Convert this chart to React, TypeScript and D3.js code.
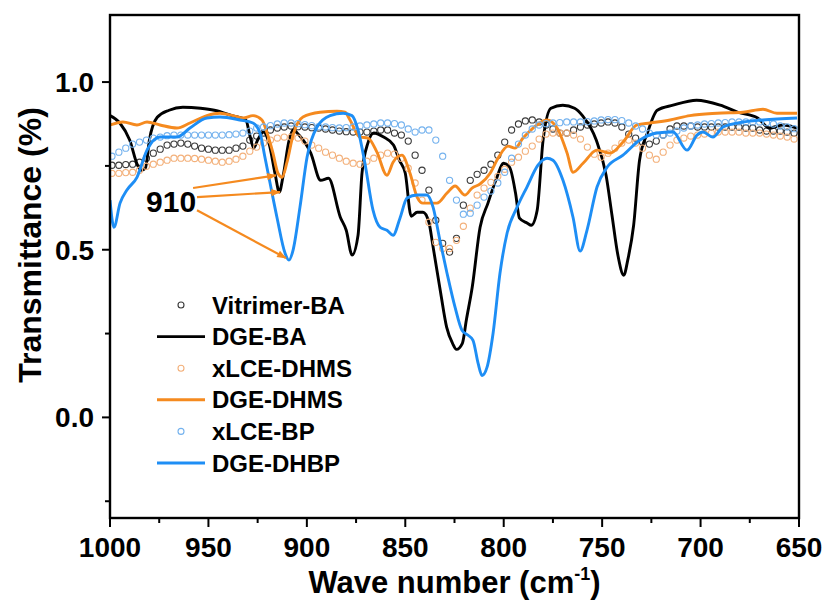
import React from "react";
import * as d3 from "d3";

// wavenumber grid of the open-circle spectra (cm-1)
const WN_DOTS = [
  999, 995.5, 992, 988.5, 985, 981.5, 978, 974.5, 971, 967.5,
  964, 960.5, 957, 953.5, 950, 946.5, 943, 939.5, 936, 932.5,
  929, 925.5, 922, 918.5, 915, 911.5, 908, 904.5, 901, 897.5,
  894, 890.5, 887, 883.5, 880, 876.5, 873, 869.5, 866, 862.5,
  859, 855.5, 852, 848.5, 845, 841.5, 838, 834.5, 831, 827.5,
  824, 820.5, 817, 813.5, 810, 806.5, 803, 799.5, 796, 792.5,
  789, 785.5, 782, 778.5, 775, 771.5, 768, 764.5, 761, 757.5,
  754, 750.5, 747, 743.5, 740, 736.5, 733, 729.5, 726, 722.5,
  719, 715.5, 712, 708.5, 705, 701.5, 698, 694.5, 691, 687.5,
  684, 680.5, 677, 673.5, 670, 666.5, 663, 659.5, 656, 652.5,
];

const T_VITRIMER_BA = [
  0.752, 0.752, 0.754, 0.755, 0.761, 0.773, 0.788, 0.8, 0.812, 0.815,
  0.818, 0.815, 0.809, 0.803, 0.8, 0.797, 0.797, 0.797, 0.803, 0.809,
  0.827, 0.839, 0.848, 0.857, 0.863, 0.866, 0.869, 0.867, 0.866, 0.864,
  0.863, 0.86, 0.857, 0.854, 0.852, 0.851, 0.851, 0.851, 0.854, 0.857,
  0.857, 0.848, 0.842, 0.824, 0.782, 0.737, 0.678, 0.588, 0.519, 0.493,
  0.534, 0.633, 0.707, 0.725, 0.737, 0.755, 0.782, 0.821, 0.857, 0.875,
  0.884, 0.887, 0.881, 0.872, 0.86, 0.848, 0.848, 0.857, 0.866, 0.872,
  0.875, 0.878, 0.881, 0.878, 0.866, 0.845, 0.833, 0.821, 0.815, 0.824,
  0.842, 0.86, 0.869, 0.869, 0.869, 0.866, 0.866, 0.866, 0.866, 0.866,
  0.866, 0.866, 0.863, 0.863, 0.857, 0.854, 0.854, 0.854, 0.851, 0.848,
];

const T_XLCE_DHMS = [
  0.728, 0.728, 0.73, 0.731, 0.737, 0.749, 0.755, 0.761, 0.767, 0.773,
  0.773, 0.773, 0.772, 0.77, 0.767, 0.764, 0.761, 0.764, 0.77, 0.779,
  0.794, 0.806, 0.818, 0.827, 0.833, 0.836, 0.836, 0.833, 0.824, 0.812,
  0.803, 0.791, 0.782, 0.773, 0.764, 0.758, 0.755, 0.764, 0.773, 0.782,
  0.788, 0.785, 0.773, 0.743, 0.699, 0.648, 0.582, 0.522, 0.504, 0.504,
  0.528, 0.57, 0.624, 0.663, 0.684, 0.701, 0.719, 0.74, 0.761, 0.776,
  0.794, 0.809, 0.83, 0.845, 0.848, 0.848, 0.848, 0.842, 0.83, 0.806,
  0.785, 0.776, 0.788, 0.803, 0.818, 0.827, 0.818, 0.803, 0.782, 0.77,
  0.791, 0.812, 0.827, 0.833, 0.839, 0.842, 0.845, 0.848, 0.851, 0.851,
  0.851, 0.851, 0.848, 0.848, 0.848, 0.845, 0.842, 0.839, 0.836, 0.83,
];

const T_XLCE_BP = [
  0.779, 0.791, 0.803, 0.815, 0.821, 0.827, 0.833, 0.836, 0.84, 0.842,
  0.842, 0.842, 0.842, 0.842, 0.842, 0.842, 0.842, 0.843, 0.845, 0.848,
  0.854, 0.863, 0.866, 0.87, 0.875, 0.878, 0.878, 0.876, 0.873, 0.87,
  0.867, 0.866, 0.864, 0.863, 0.864, 0.866, 0.869, 0.872, 0.875, 0.878,
  0.878, 0.876, 0.872, 0.86, 0.851, 0.857, 0.857, 0.827, 0.779, 0.707,
  0.648, 0.606, 0.609, 0.633, 0.657, 0.675, 0.699, 0.731, 0.773, 0.815,
  0.842, 0.86, 0.872, 0.876, 0.878, 0.879, 0.881, 0.881, 0.881, 0.882,
  0.884, 0.887, 0.888, 0.888, 0.885, 0.878, 0.869, 0.86, 0.848, 0.842,
  0.842, 0.848, 0.854, 0.863, 0.869, 0.872, 0.875, 0.876, 0.878, 0.879,
  0.881, 0.881, 0.881, 0.881, 0.881, 0.879, 0.875, 0.869, 0.866, 0.861,
];

// solid-line spectra
const WN_DGE_BA = [
  1000, 995, 990, 986, 984, 982, 980, 976, 970, 963,
  954, 947, 938, 931, 929, 927, 925, 922, 919, 916,
  914, 912, 909, 907, 904, 898, 893, 889, 883, 880,
  877, 874, 872, 869, 866, 861, 856, 853, 850, 847,
  844, 841, 838, 836, 832, 829, 826, 824, 821, 819,
  816, 812, 808, 804, 800, 797, 794, 792, 788, 786,
  783, 780, 776, 770, 764, 760, 753, 748, 745, 742,
  739, 737, 734, 731, 727, 722, 714, 702, 690, 681,
  671, 665, 658, 651,
];
const T_DGE_BA = [
  0.9, 0.878, 0.827, 0.752, 0.737, 0.743, 0.827, 0.895, 0.916, 0.925,
  0.922, 0.916, 0.9, 0.887, 0.842, 0.803, 0.827, 0.851, 0.812, 0.722,
  0.672, 0.722, 0.827, 0.857, 0.842, 0.788, 0.707, 0.713, 0.597, 0.558,
  0.484, 0.543, 0.728, 0.818, 0.848, 0.836, 0.812, 0.767, 0.728, 0.6,
  0.612, 0.612, 0.582, 0.513, 0.37, 0.269, 0.221, 0.203, 0.221, 0.29,
  0.388, 0.567, 0.639, 0.707, 0.758, 0.746, 0.669, 0.594, 0.579, 0.573,
  0.618, 0.827, 0.922, 0.931, 0.922, 0.9, 0.827, 0.722, 0.603, 0.484,
  0.424, 0.469, 0.573, 0.767, 0.848, 0.916, 0.931, 0.946, 0.931, 0.91,
  0.893, 0.863, 0.872, 0.863,
];

const WN_DGE_DHMS = [
  1000, 993.4, 986.3, 981.2, 974.6, 966, 959.4, 950.8, 944.1, 937.5,
  932.4, 927.4, 922.8, 920.2, 917.2, 914.7, 912.6, 910.1, 907, 902,
  893.3, 884.7, 880.6, 878.1, 873, 868.9, 864.4, 859.3, 856.2, 851.7,
  847.6, 844, 841, 837.4, 833.9, 828.8, 824.7, 819.7, 816.1, 812,
  806.9, 802.9, 797.8, 794.3, 790.2, 785.1, 778, 772.9, 767.8, 764.8,
  759.7, 752.6, 746, 739.4, 732.3, 725.7, 715.5, 705.4, 691.6, 678.4,
  668.3, 661.2, 651,
];
const T_DGE_DHMS = [
  0.872, 0.881, 0.872, 0.881, 0.872, 0.863, 0.878, 0.9, 0.907, 0.9,
  0.893, 0.9, 0.887, 0.848, 0.788, 0.728, 0.716, 0.761, 0.842, 0.896,
  0.91, 0.913, 0.91, 0.887, 0.836, 0.833, 0.791, 0.722, 0.761, 0.782,
  0.728, 0.657, 0.639, 0.639, 0.639, 0.669, 0.69, 0.663, 0.684, 0.696,
  0.728, 0.773, 0.809, 0.803, 0.833, 0.863, 0.887, 0.863, 0.788, 0.731,
  0.758, 0.797, 0.788, 0.821, 0.872, 0.878, 0.887, 0.9, 0.907, 0.91,
  0.919, 0.907, 0.907,
];

const WN_DGE_DHBP = [
  1000, 998, 994.9, 991.4, 986.3, 981.2, 974.6, 966, 959.4, 950.8,
  944.1, 934, 927.4, 923.8, 921.3, 918.7, 915.2, 911.1, 909.1, 907,
  903.5, 899.9, 894.8, 888.2, 881.6, 877.1, 874, 870.5, 866.4, 862.8,
  859.3, 856.2, 852.7, 849.1, 844, 839, 835.9, 832.4, 828.8, 824.7,
  821.2, 818.1, 815.6, 813, 811, 808.5, 805.4, 801.9, 798.3, 793.2,
  788.2, 782.6, 778, 775, 769.9, 764.8, 761.2, 757.7, 752.6, 747.5,
  739.4, 730.8, 722.1, 714, 706.9, 701.8, 698.8, 693.7, 688.6, 678.4,
  668.3, 651,
];
const T_DGE_DHBP = [
  0.648, 0.567, 0.639, 0.678, 0.716, 0.797, 0.836, 0.836, 0.863, 0.893,
  0.896, 0.887, 0.878, 0.848, 0.776, 0.699, 0.597, 0.49, 0.469, 0.499,
  0.627, 0.776, 0.866, 0.9, 0.907, 0.9, 0.857, 0.758, 0.618, 0.567,
  0.558, 0.543, 0.594, 0.654, 0.663, 0.663, 0.627, 0.528, 0.43, 0.328,
  0.26, 0.245, 0.23, 0.161, 0.125, 0.149, 0.251, 0.43, 0.549, 0.627,
  0.687, 0.752, 0.773, 0.767, 0.707, 0.597, 0.496, 0.558, 0.687, 0.746,
  0.782, 0.827, 0.848, 0.851, 0.797, 0.842, 0.851, 0.836, 0.866, 0.881,
  0.887, 0.893,
];

const X_TICKS = [1000, 950, 900, 850, 800, 750, 700, 650];
const X_MINOR = [975, 925, 875, 825, 775, 725, 675];
const Y_TICKS = [0, 0.5, 1.0];
const Y_MINOR = [-0.25, 0.25, 0.75];

// "910" label and arrow tips (wavenumber, transmittance)
const LABEL_910 = { wn: 981.7, t: 0.612, text: "910" };
const ARROWS_910 = [
  { fromWn: 957.8, fromT: 0.684, toWn: 915.7, toT: 0.722 },
  { fromWn: 955.8, fromT: 0.657, toWn: 913.6, toT: 0.672 },
  { fromWn: 955.8, fromT: 0.618, toWn: 910.6, toT: 0.475 },
];

const FONT = "'Liberation Sans', Arial, Helvetica, sans-serif";
const ORANGE = "#f58a1f";
const BLUE = "#1e8ef5";

const W = 828;
const H = 601;
const m = { left: 110, right: 799, top: 15, bottom: 518 };

export default function App() {
  const x = d3.scaleLinear().domain([1000, 650]).range([m.left, m.right]);
  const y = d3.scaleLinear().domain([-0.3, 1.2]).range([m.bottom, m.top]);

  const line = d3
    .line<[number, number]>()
    .x((d) => x(d[0]))
    .y((d) => y(d[1]))
    .curve(d3.curveMonotoneX);

  const zip = (a: number[], b: number[]) =>
    a.map((v, i) => [v, b[i]] as [number, number]);

  const series = [
    { name: "Vitrimer-BA", kind: "dots", color: "#3a3a3a", data: zip(WN_DOTS, T_VITRIMER_BA) },
    { name: "DGE-BA", kind: "line", color: "#000000", data: zip(WN_DGE_BA, T_DGE_BA) },
    { name: "xLCE-DHMS", kind: "dots", color: "#f3b07a", data: zip(WN_DOTS, T_XLCE_DHMS) },
    { name: "DGE-DHMS", kind: "line", color: ORANGE, data: zip(WN_DGE_DHMS, T_DGE_DHMS) },
    { name: "xLCE-BP", kind: "dots", color: "#74b2ee", data: zip(WN_DOTS, T_XLCE_BP) },
    { name: "DGE-DHBP", kind: "line", color: BLUE, data: zip(WN_DGE_DHBP, T_DGE_DHBP) },
  ];

  const legendX = 181;
  const legendY0 = 305;
  const legendStep = 31.6;

  return (
    <svg
      width={W}
      height={H}
      style={{ position: "absolute", left: 0, top: 0, background: "#fff" }}
      fontFamily={FONT}
    >
      <defs>
        <clipPath id="plot-clip">
          <rect x={m.left} y={m.top} width={m.right - m.left} height={m.bottom - m.top} />
        </clipPath>
        <marker
          id="arrow-head"
          viewBox="0 0 12 10"
          refX={11}
          refY={5}
          markerWidth={12}
          markerHeight={8}
          markerUnits="userSpaceOnUse"
          orient="auto"
        >
          <path d="M0,0.5 L12,5 L0,9.5 z" fill={ORANGE} />
        </marker>
      </defs>

      <g clipPath="url(#plot-clip)">
        {series.map((s) =>
          s.kind === "line" ? (
            <path
              key={s.name}
              d={line(s.data) || ""}
              fill="none"
              stroke={s.color}
              strokeWidth={2.9}
              strokeLinejoin="round"
            />
          ) : (
            <g key={s.name}>
              {s.data.map((d, i) => (
                <circle
                  key={i}
                  cx={x(d[0])}
                  cy={y(d[1])}
                  r={3.1}
                  fill="none"
                  stroke={s.color}
                  strokeWidth={1.1}
                />
              ))}
            </g>
          )
        )}
      </g>

      {/* 910 annotation */}
      {ARROWS_910.map((a, i) => (
        <line
          key={i}
          x1={x(a.fromWn)}
          y1={y(a.fromT)}
          x2={x(a.toWn)}
          y2={y(a.toT)}
          stroke={ORANGE}
          strokeWidth={2.2}
          markerEnd="url(#arrow-head)"
        />
      ))}
      <text
        x={x(LABEL_910.wn)}
        y={y(LABEL_910.t)}
        fontSize={30}
        fontWeight="bold"
        fill="#000"
      >
        {LABEL_910.text}
      </text>

      {/* frame */}
      <rect
        x={m.left}
        y={m.top}
        width={m.right - m.left}
        height={m.bottom - m.top}
        fill="none"
        stroke="#000"
        strokeWidth={2.4}
      />

      {/* x ticks */}
      {X_TICKS.map((t) => (
        <g key={t}>
          <line x1={x(t)} x2={x(t)} y1={m.bottom} y2={m.bottom + 9} stroke="#000" strokeWidth={2} />
          <text x={x(t)} y={557} textAnchor="middle" fontSize={28} fontWeight="bold">
            {t}
          </text>
        </g>
      ))}
      {X_MINOR.map((t) => (
        <line key={t} x1={x(t)} x2={x(t)} y1={m.bottom} y2={m.bottom + 5} stroke="#000" strokeWidth={2} />
      ))}

      {/* y ticks */}
      {Y_TICKS.map((t) => (
        <g key={t}>
          <line x1={m.left - 8} x2={m.left} y1={y(t)} y2={y(t)} stroke="#000" strokeWidth={2} />
          <text
            x={m.left - 16}
            y={y(t)}
            dy="0.36em"
            textAnchor="end"
            fontSize={28}
            fontWeight="bold"
          >
            {t.toFixed(1)}
          </text>
        </g>
      ))}
      {Y_MINOR.map((t) => (
        <line key={t} x1={m.left - 5} x2={m.left} y1={y(t)} y2={y(t)} stroke="#000" strokeWidth={2} />
      ))}

      {/* axis titles */}
      <text
        x={(m.left + m.right) / 2}
        y={593}
        textAnchor="middle"
        fontSize={31}
        fontWeight="bold"
      >
        Wave number (cm
        <tspan dy={-13} fontSize={18}>-1</tspan>
        <tspan dy={13}>)</tspan>
      </text>
      <text
        transform="translate(41,245) rotate(-90)"
        textAnchor="middle"
        fontSize={32}
        fontWeight="bold"
      >
        Transmittance (%)
      </text>

      {/* legend */}
      {series.map((s, i) => {
        const ly = legendY0 + i * legendStep;
        return (
          <g key={s.name}>
            {s.kind === "line" ? (
              <line x1={157} x2={205} y1={ly} y2={ly} stroke={s.color} strokeWidth={2.9} />
            ) : (
              <circle cx={legendX} cy={ly} r={3} fill="none" stroke={s.color} strokeWidth={1.1} />
            )}
            <text x={212} y={ly + 8.5} fontSize={24} fontWeight="bold">
              {s.name}
            </text>
          </g>
        );
      })}
    </svg>
  );
}
